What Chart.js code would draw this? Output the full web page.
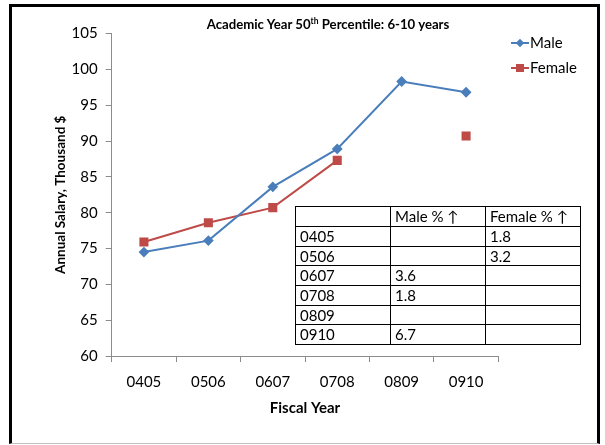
<!DOCTYPE html>
<html>
<head>
<meta charset="utf-8">
<script src="https://cdn.jsdelivr.net/npm/chart.js@4/dist/chart.umd.min.js"></script>
<style>
  html, body { margin: 0; padding: 0; background: #fff; }
  #wrap { position: relative; width: 605px; height: 445px; overflow: hidden; font-family: Lato, "Open Sans", sans-serif; }
  #c { position: absolute; left: 0; top: 0; }
  #frame { position: absolute; left: 9px; top: 4px; width: 591px; height: 440px; box-sizing: border-box;
           border: 3px solid #000; border-bottom: 1px solid #c0c0c0; pointer-events: none; }
  #title { position: absolute; left: 0; width: 656px; top: 16px; text-align: center; font-weight: bold; font-size: 13.2px; color: #000; }
  #title sup { font-size: 8.5px; }
  .leg { position: absolute; left: 511px; height: 16px; font-size: 15px; color: #000; }
  .leg .ln { position: absolute; left: 0; top: 8px; width: 18px; height: 2px; }
  .leg .mk { position: absolute; }
  .leg .tx { position: absolute; left: 19px; top: -1px; white-space: nowrap; }
  #tbl { position: absolute; left: 295px; top: 206px; display: grid;
         grid-template-columns: 95px 95px 95px; grid-template-rows: 20px repeat(6, 19.67px);
         border-left: 1px solid #000; border-top: 1px solid #000; }
  #tbl div { border-right: 1px solid #000; border-bottom: 1px solid #000; font-size: 15px; line-height: 18px;
             padding-left: 4px; color: #000; white-space: nowrap; overflow: hidden; }
</style>
</head>
<body>
<div id="wrap">
  <canvas id="c" width="605" height="445"></canvas>
  <div id="title"></div>
  <div id="legend"></div>
  <div id="tbl"></div>
  <div id="frame"></div>
</div>
<script>
// ---- data ----
const categories = ['0405', '0506', '0607', '0708', '0809', '0910'];
const maleValues = [74.5, 76.1, 83.6, 88.9, 98.3, 96.8];
const femaleValues = [75.9, 78.6, 80.7, 87.3, null, 90.7];
const yMin = 60, yMax = 105, yStep = 5;
const seriesNames = ['Male', 'Female'];
const tableHeader = ['', 'Male % \u2191', 'Female % \u2191'];
const maleIncrease = ['', '', '3.6', '1.8', '', '6.7'];
const femaleIncrease = ['1.8', '3.2', '', '', '', ''];
const titleMain = 'Academic Year 50';
const titleSup = 'th';
const titleRest = ' Percentile: 6-10 years';
const xTitle = 'Fiscal Year';
const yTitle = 'Annual Salary, Thousand $';

const maleColor = '#4a7ebb';
const femaleColor = '#be4b48';
const axisColor = '#8c8c8c';

// ---- title ----
document.getElementById('title').innerHTML = titleMain + '<sup>' + titleSup + '</sup>' + titleRest;

// ---- legend ----
const legend = document.getElementById('legend');
[[seriesNames[0], maleColor, 'diamond', 34], [seriesNames[1], femaleColor, 'square', 59]].forEach(([name, col, shape, top]) => {
  const d = document.createElement('div');
  d.className = 'leg';
  d.style.top = top + 'px';
  let mk;
  if (shape === 'diamond') {
    mk = `<div class="mk" style="left:6px;top:6px;width:6px;height:6px;background:${col};transform:rotate(45deg)"></div>`;
  } else {
    mk = `<div class="mk" style="left:5px;top:5px;width:8px;height:8px;background:${col}"></div>`;
  }
  d.innerHTML = `<div class="ln" style="background:${col}"></div>${mk}<div class="tx">${name}</div>`;
  legend.appendChild(d);
});

// ---- table ----
const tbl = document.getElementById('tbl');
const addCell = (t) => { const c = document.createElement('div'); c.textContent = t; tbl.appendChild(c); };
tableHeader.forEach(addCell);
categories.forEach((cat, i) => { addCell(cat); addCell(maleIncrease[i]); addCell(femaleIncrease[i]); });

// ---- chart ----
const FONT = 'Lato, "Open Sans", sans-serif';
const bgPlugin = {
  id: 'bg',
  beforeDraw(chart) {
    const ctx = chart.ctx;
    ctx.save();
    ctx.fillStyle = '#fff';
    ctx.fillRect(0, 0, chart.width, chart.height);
    ctx.restore();
  }
};

new Chart(document.getElementById('c'), {
  type: 'line',
  data: {
    labels: categories,
    datasets: [
      {
        label: seriesNames[0], data: maleValues, borderColor: maleColor, backgroundColor: maleColor,
        borderWidth: 2, pointStyle: 'rectRot', pointRadius: 4, pointHoverRadius: 4, tension: 0, spanGaps: false
      },
      {
        label: seriesNames[1], data: femaleValues, borderColor: femaleColor, backgroundColor: femaleColor,
        borderWidth: 2, pointStyle: 'rect', pointRadius: 5, pointHoverRadius: 5, tension: 0, spanGaps: false
      }
    ]
  },
  options: {
    responsive: false,
    animation: false,
    events: [],
    layout: { padding: { left: 20, right: 106.7, top: 33.5, bottom: 10 } },
    plugins: { legend: { display: false }, title: { display: false }, tooltip: { enabled: false } },
    scales: {
      x: {
        type: 'category',
        offset: true,
        grid: { display: true, offset: true, drawOnChartArea: false, drawTicks: true, tickLength: 6, color: axisColor },
        border: { display: true, color: axisColor, width: 1 },
        ticks: { color: '#000', font: { family: FONT, size: 15 }, padding: 11, maxRotation: 0 },
        title: { display: true, text: xTitle, color: '#000', font: { family: FONT, size: 15, weight: 'bold' }, padding: { top: 0, bottom: 18 } },
        afterFit(s) { s.height = 79; }
      },
      y: {
        min: yMin, max: yMax,
        grid: { display: true, drawOnChartArea: false, drawTicks: true, tickLength: 6, color: axisColor },
        border: { display: true, color: axisColor, width: 1 },
        ticks: { stepSize: yStep, color: '#000', font: { family: FONT, size: 15 }, padding: 8 },
        title: { display: true, text: yTitle, color: '#000', font: { family: FONT, size: 13.5, weight: 'bold' }, padding: { top: 33, bottom: 0 } },
        afterFit(s) { s.width = 91.7; }
      }
    }
  },
  plugins: [bgPlugin]
});
</script>
</body>
</html>
